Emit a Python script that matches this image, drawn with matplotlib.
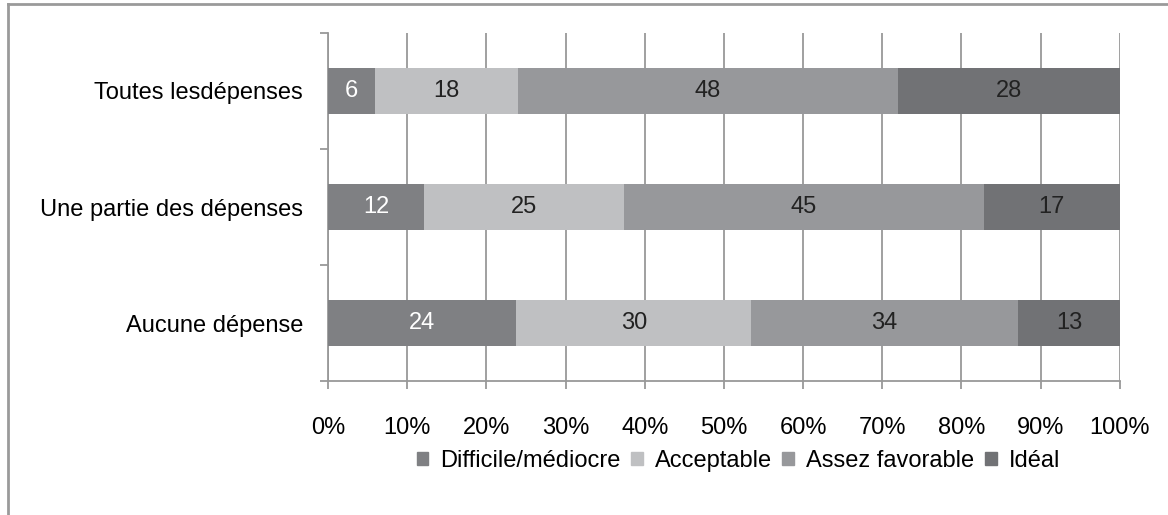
import matplotlib.pyplot as plt
from matplotlib.patches import Patch
from matplotlib.lines import Line2D
import numpy as np

plt.rcParams['font.family'] = ['Liberation Sans', 'DejaVu Sans']

categories = ["Toutes lesdépenses", "Une partie des dépenses", "Aucune dépense"]
series = ["Difficile/médiocre", "Acceptable", "Assez favorable", "Idéal"]
difficile = [6, 12, 24]
acceptable = [18, 25, 30]
assez = [48, 45, 34]
ideal = [28, 17, 13]
colors = ["#7f8083", "#bfc0c2", "#97989b", "#717275"]
text_colors = ["white", "#222222", "#222222", "#222222"]


def main():
    values = np.array([difficile, acceptable, assez, ideal], dtype=float)
    totals = values.sum(axis=0)
    shares = values / totals * 100

    fig = plt.figure(figsize=(11.68, 5.15), dpi=100)
    ax = fig.add_axes([0.2808, 0.260, 0.678, 0.676])

    y = np.arange(len(categories))[::-1]
    left = np.zeros(len(categories))
    for i, name in enumerate(series):
        bars = ax.barh(y, shares[i], left=left, height=0.39, color=colors[i],
                       label=name, zorder=3)
        ax.bar_label(bars, labels=[str(int(v)) for v in values[i]],
                     label_type="center", color=text_colors[i], fontsize=17)
        left += shares[i]

    ax.set_xlim(0, 100)
    ax.set_ylim(-0.5, 2.5)
    ax.set_xticks(np.arange(0, 101, 10))
    ax.set_xticklabels([f"{v}%" for v in range(0, 101, 10)])
    ax.set_yticks([-0.5, 0.5, 1.5, 2.5])
    ax.set_yticklabels([])
    ax.set_yticks(y, minor=True)
    ax.set_yticklabels(categories, minor=True)
    ax.tick_params(axis="y", which="minor", length=0, pad=18, labelsize=17)
    ax.tick_params(axis="y", which="major", length=6, color="#999999", width=1.3)
    ax.tick_params(axis="x", length=6, color="#999999", width=1.3, labelsize=17,
                   pad=20)
    ax.grid(axis="x", color="#999999", linewidth=1.3, zorder=0)
    for side in ["top", "right"]:
        ax.spines[side].set_visible(False)
    for side in ["left", "bottom"]:
        ax.spines[side].set_color("#999999")
        ax.spines[side].set_linewidth(1.3)

    handles = [Patch(color=c, label=s) for c, s in zip(colors, series)]
    fig.legend(handles=handles, loc="center", bbox_to_anchor=(0.632, 0.105),
               ncol=4, frameon=False, fontsize=17, handlelength=0.5,
               handleheight=0.5, handletextpad=0.5, columnspacing=0.45)

    # outer frame (top and left edges)
    fig.add_artist(Line2D([0.007, 1.0], [0.992, 0.992], transform=fig.transFigure,
                          color="#9a9a9a", linewidth=2))
    fig.add_artist(Line2D([0.007, 0.007], [0.0, 0.992], transform=fig.transFigure,
                          color="#9a9a9a", linewidth=2))

    fig.savefig("out.png", dpi=100)


if __name__ == '__main__':
    main()
